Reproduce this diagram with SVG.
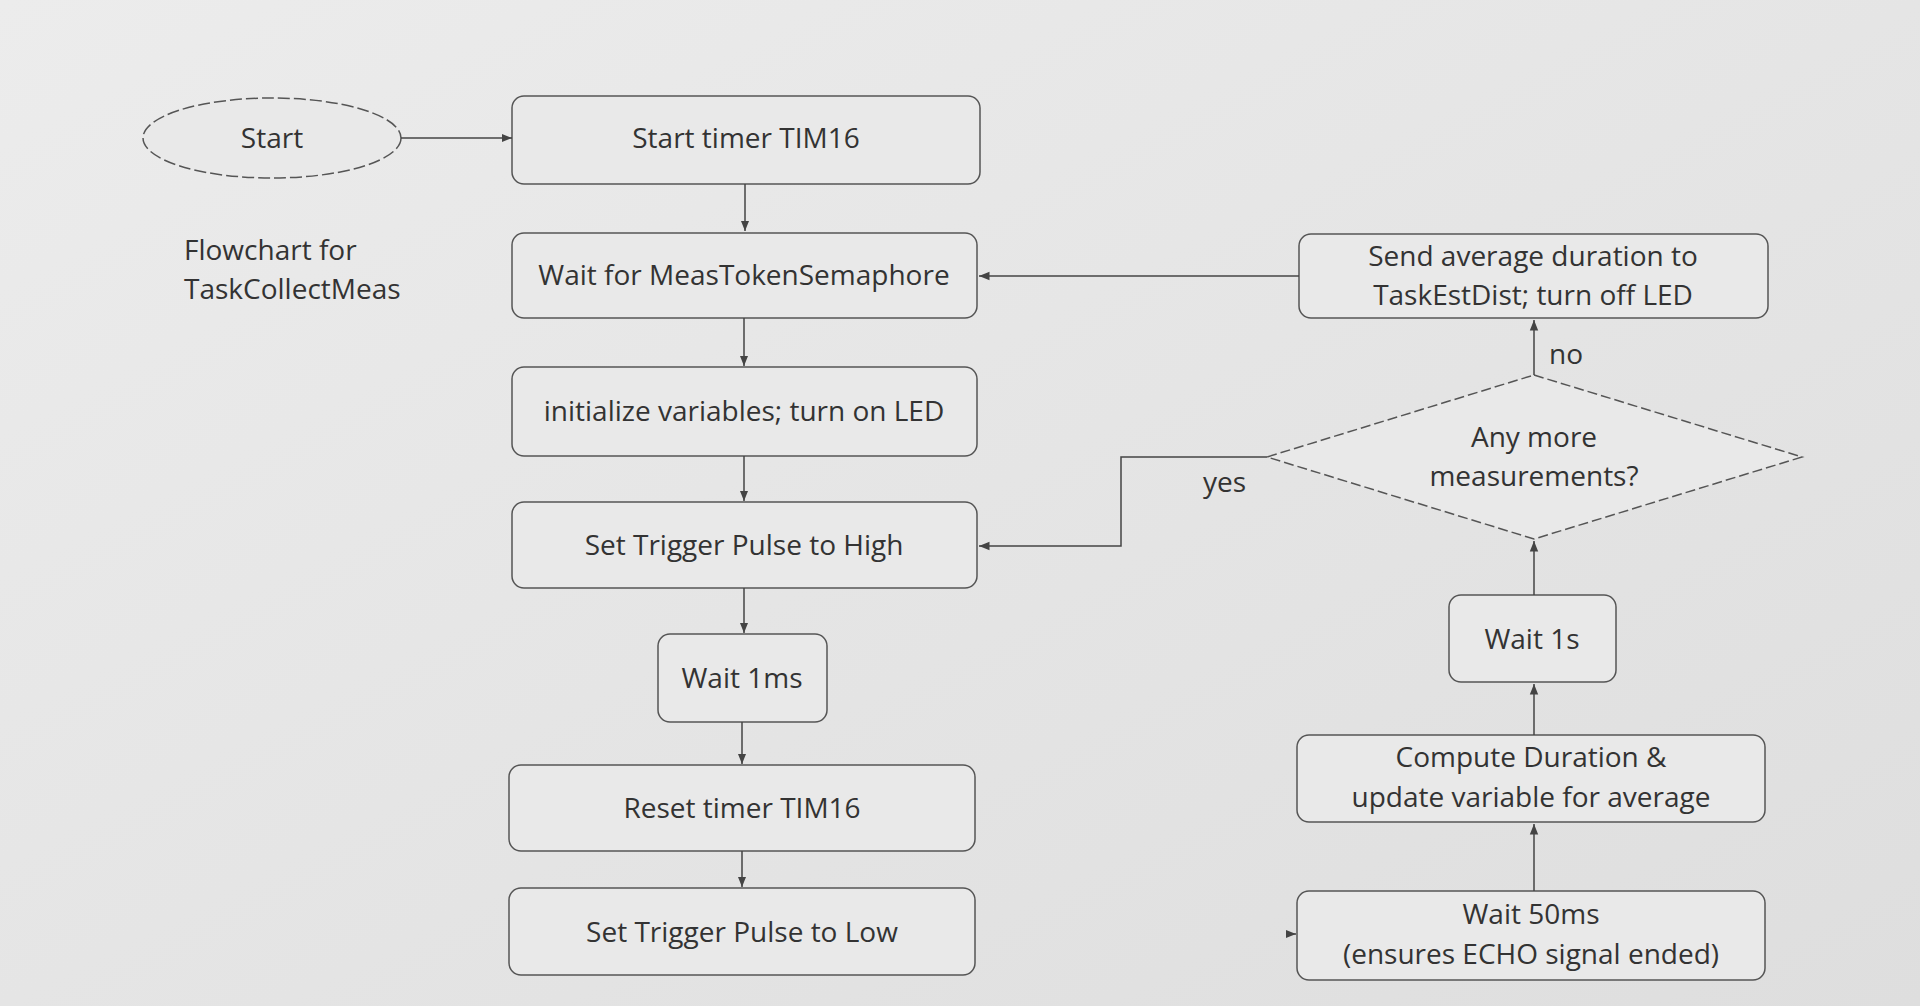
<svg xmlns="http://www.w3.org/2000/svg" width="1920" height="1006" viewBox="0 0 1920 1006">
<defs>
<linearGradient id="bg" x1="0" y1="0" x2="1" y2="1"><stop offset="0" stop-color="#ececec"/><stop offset="1" stop-color="#dedede"/></linearGradient>
<marker id="ah" viewBox="0 0 10 10" refX="10" refY="5" markerWidth="7" markerHeight="7" orient="auto"><path d="M0,1 L10,5 L0,9 z" fill="#444"/></marker>
<style>
.n{fill:#e9e9e9;stroke:#555;stroke-width:1.5}
.t{font-family:"Open Sans","Liberation Sans",sans-serif;font-size:28px;fill:#333;text-anchor:middle}
.l{font-family:"Open Sans","Liberation Sans",sans-serif;font-size:28px;fill:#333}
.c{fill:none;stroke:#444;stroke-width:1.5;marker-end:url(#ah)}
</style>
</defs>
<rect width="1920" height="1006" fill="url(#bg)"/>
<g id="start"><ellipse class="n" cx="272" cy="138" rx="129" ry="40" stroke-dasharray="12 4"/><text class="t" x="272" y="148">Start</text></g>
<g id="title"><text class="l" x="184" y="260">Flowchart for</text><text class="l" x="184" y="299">TaskCollectMeas</text></g>
<g id="timer"><rect class="n" x="512" y="96" width="468" height="88" rx="12"/><text class="t" x="746" y="148">Start timer TIM16</text></g>
<g id="wait"><rect class="n" x="512" y="233" width="465" height="85" rx="12"/><text class="t" x="744" y="285">Wait for MeasTokenSemaphore</text></g>
<g id="init"><rect class="n" x="512" y="367" width="465" height="89" rx="12"/><text class="t" x="744" y="421">initialize variables; turn on LED</text></g>
<g id="high"><rect class="n" x="512" y="502" width="465" height="86" rx="12"/><text class="t" x="744" y="555">Set Trigger Pulse to High</text></g>
<g id="w1ms"><rect class="n" x="658" y="634" width="169" height="88" rx="12"/><text class="t" x="742" y="688">Wait 1ms</text></g>
<g id="reset"><rect class="n" x="509" y="765" width="466" height="86" rx="12"/><text class="t" x="742" y="818">Reset timer TIM16</text></g>
<g id="low"><rect class="n" x="509" y="888" width="466" height="87" rx="12"/><text class="t" x="742" y="942">Set Trigger Pulse to Low</text></g>
<g id="send"><rect class="n" x="1299" y="234" width="469" height="84" rx="12"/><text class="t" x="1533" y="266">Send average duration to</text><text class="t" x="1533" y="305">TaskEstDist; turn off LED</text></g>
<g id="dec"><polygon class="n" points="1534,375 1802,457 1534,539 1267,457" stroke-dasharray="10 4"/><text class="t" x="1534" y="447">Any more</text><text class="t" x="1534" y="486">measurements?</text></g>
<g id="w1s"><rect class="n" x="1449" y="595" width="167" height="87" rx="12"/><text class="t" x="1532" y="649">Wait 1s</text></g>
<g id="comp"><rect class="n" x="1297" y="735" width="468" height="87" rx="12"/><text class="t" x="1531" y="767">Compute Duration &amp;</text><text class="t" x="1531" y="807">update variable for average</text></g>
<g id="w50"><rect class="n" x="1297" y="891" width="468" height="89" rx="12"/><text class="t" x="1531" y="924">Wait 50ms</text><text class="t" x="1531" y="964">(ensures ECHO signal ended)</text></g>
<g id="connectors">
<path class="c" d="M401,138 H512"/>
<path class="c" d="M745,184 V231"/>
<path class="c" d="M744,318 V366"/>
<path class="c" d="M744,456 V501"/>
<path class="c" d="M744,588 V633"/>
<path class="c" d="M742,722 V764"/>
<path class="c" d="M742,851 V887"/>
<path class="c" d="M1299,276 H979"/>
<path class="c" d="M1534,375 V320"/>
<path class="c" d="M1267,457 H1121 V546 H979"/>
<path class="c" d="M1534,595 V541"/>
<path class="c" d="M1534,735 V684"/>
<path class="c" d="M1534,891 V824"/>
<path class="c" d="M1286,934 H1296"/>
<text class="l" x="1203" y="492">yes</text>
<text class="l" x="1549" y="364">no</text>
</g>
</svg>
